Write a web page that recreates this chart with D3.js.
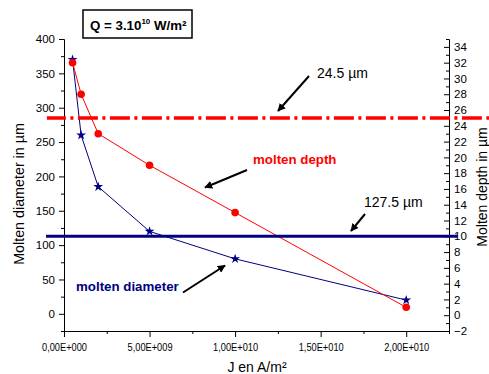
<!DOCTYPE html>
<html lang="en">
<head>
<meta charset="UTF-8"/>
<title>Molten diameter and depth</title>
<script src="https://d3js.org/d3.v7.min.js"></script>
<style>
  body { margin: 0; background: #fff; }
  svg text { font-family: "Liberation Sans", Arial, sans-serif; fill: #000; }
</style>
</head>
<body>
<script>
// data
var currentDensity = [5e8, 1e9, 2e9, 5e9, 1e10, 2e10];        // J en A/m2
var moltenDiameter = [370, 260, 185, 120, 80, 20];              // left axis, um
var moltenDepth    = [32, 28, 23, 19, 13, 1];                    // right axis, um

// reference levels (right axis units) and where they are drawn along x
var depthLevel    = 25;
var diameterLevel = 10;
var depthLevelSpan    = [-1e9, 2.5e10];
var diameterLevelSpan = [-1.05e9, 2.3e10];

var xTickValues = [0, 5e9, 1e10, 1.5e10, 2e10];
var xTickLabels = ["0,00E+000", "5,00E+009", "1,00E+010", "1,50E+010", "2,00E+010"];
var xMinorTicks = [2.5e9, 7.5e9, 1.25e10, 1.75e10, 2.25e10];
var leftTicks   = [0, 50, 100, 150, 200, 250, 300, 350, 400];
var leftMinor   = [-25, 25, 75, 125, 175, 225, 275, 325, 375];
var rightTicks  = d3.range(-2, 35, 2);
var rightMinor  = d3.range(-1, 36, 2);

var w = 489, h = 374;
var plotL = 64, plotR = 449, plotT = 39, plotB = 331;

var svg = d3.select("body").append("svg")
    .attr("width", w)
    .attr("height", h);

var xScale = d3.scaleLinear().domain([0, 2.25e10]).range([plotL, plotR]);
var yLeft  = d3.scaleLinear().domain([-25, 400]).range([plotB, plotT]);
var yRight = d3.scaleLinear().domain([-2, 35]).range([plotB, plotT]);

// ---- axes
var xAxis = d3.axisBottom(xScale)
    .tickValues(xTickValues)
    .tickFormat(function(d, i) { return xTickLabels[i]; })
    .tickSizeInner(6).tickSizeOuter(0).tickPadding(7);
var xMinor = d3.axisBottom(xScale)
    .tickValues(xMinorTicks).tickFormat("").tickSizeInner(3).tickSizeOuter(0);

var gx = svg.append("g").attr("transform", "translate(0," + plotB + ")").call(xAxis);
svg.append("g").attr("transform", "translate(0," + plotB + ")").call(xMinor);
gx.selectAll("text")
    .style("font-size", "10.5px")
    .attr("textLength", 45)
    .attr("lengthAdjust", "spacingAndGlyphs");

var yAxisL = d3.axisLeft(yLeft)
    .tickValues(leftTicks).tickSizeInner(5).tickSizeOuter(0).tickPadding(4);
var yMinorL = d3.axisLeft(yLeft)
    .tickValues(leftMinor).tickFormat("").tickSizeInner(3).tickSizeOuter(0);
var gyl = svg.append("g").attr("transform", "translate(" + plotL + ",0)").call(yAxisL);
svg.append("g").attr("transform", "translate(" + plotL + ",0)").call(yMinorL);
gyl.selectAll("text").style("font-size", "11.5px");

// right axis has its ticks pointing into the plot
var yAxisR = d3.axisRight(yRight)
    .tickValues(rightTicks).tickSizeInner(-5).tickSizeOuter(0).tickPadding(5);
var yMinorR = d3.axisRight(yRight)
    .tickValues(rightMinor).tickFormat("").tickSizeInner(-3).tickSizeOuter(0);
var gyr = svg.append("g").attr("transform", "translate(" + plotR + ",0)").call(yAxisR);
svg.append("g").attr("transform", "translate(" + plotR + ",0)").call(yMinorR);
gyr.selectAll("text").style("font-size", "11.5px");

svg.selectAll(".domain").attr("stroke", "#000").attr("stroke-width", 1);
svg.selectAll(".tick line").attr("stroke", "#000");

// ---- axis titles
svg.append("text")
    .attr("transform", "translate(24," + 194 + ") rotate(-90)")
    .attr("text-anchor", "middle")
    .style("font-size", "14.3px")
    .text("Molten diameter in \u00b5m");

svg.append("text")
    .attr("transform", "translate(487," + 187 + ") rotate(-90)")
    .attr("text-anchor", "middle")
    .style("font-size", "14px")
    .text("Molten depth in \u00b5m");

svg.append("text")
    .attr("x", 257).attr("y", 372)
    .attr("text-anchor", "middle")
    .style("font-size", "14px")
    .text("J en A/m\u00b2");

// ---- series
var diamLine = d3.line()
    .x(function(d, i) { return xScale(currentDensity[i]); })
    .y(function(d) { return yLeft(d); });
var depthLine = d3.line()
    .x(function(d, i) { return xScale(currentDensity[i]); })
    .y(function(d) { return yRight(d); });

svg.append("path")
    .datum(moltenDiameter)
    .attr("d", diamLine)
    .attr("fill", "none")
    .attr("stroke", "#000080")
    .attr("stroke-width", 1);

svg.append("path")
    .datum(moltenDepth)
    .attr("d", depthLine)
    .attr("fill", "none")
    .attr("stroke", "#ff0000")
    .attr("stroke-width", 1);

svg.selectAll(".star")
    .data(moltenDiameter)
    .enter()
    .append("path")
    .attr("class", "star")
    .attr("d", d3.symbol().type(d3.symbolStar).size(30))
    .attr("transform", function(d, i) {
        return "translate(" + xScale(currentDensity[i]) + "," + yLeft(d) + ")";
    })
    .attr("fill", "#000080");

svg.selectAll(".dot")
    .data(moltenDepth)
    .enter()
    .append("circle")
    .attr("class", "dot")
    .attr("cx", function(d, i) { return xScale(currentDensity[i]); })
    .attr("cy", function(d) { return yRight(d); })
    .attr("r", 3.8)
    .attr("fill", "#ff0000");

// ---- reference levels
svg.append("line")
    .attr("x1", xScale(depthLevelSpan[0])).attr("x2", xScale(depthLevelSpan[1]))
    .attr("y1", yRight(depthLevel)).attr("y2", yRight(depthLevel))
    .attr("stroke", "#ff0000")
    .attr("stroke-width", 3.5)
    .attr("stroke-dasharray", "20,4.5,3,4.5")
    .attr("stroke-dashoffset", 1);

svg.append("line")
    .attr("x1", xScale(diameterLevelSpan[0])).attr("x2", xScale(diameterLevelSpan[1]))
    .attr("y1", yRight(diameterLevel)).attr("y2", yRight(diameterLevel))
    .attr("stroke", "#000080")
    .attr("stroke-width", 3);

// ---- annotations
var defs = svg.append("defs");
defs.append("marker")
    .attr("id", "head")
    .attr("viewBox", "0 0 10 10")
    .attr("refX", 9).attr("refY", 5)
    .attr("markerWidth", 4).attr("markerHeight", 4)
    .attr("orient", "auto")
    .append("path")
    .attr("d", "M0,0 L10,5 L0,10 z")
    .attr("fill", "#000");

var arrows = [
    [309, 76, 278, 111],
    [247, 170, 205, 187.5],
    [365, 214, 351, 231],
    [183, 292.5, 225, 265.5]
];
svg.selectAll(".arrow")
    .data(arrows)
    .enter()
    .append("line")
    .attr("class", "arrow")
    .attr("x1", function(d) { return d[0]; })
    .attr("y1", function(d) { return d[1]; })
    .attr("x2", function(d) { return d[2]; })
    .attr("y2", function(d) { return d[3]; })
    .attr("stroke", "#000")
    .attr("stroke-width", 2)
    .attr("marker-end", "url(#head)");

svg.append("text")
    .attr("x", 317).attr("y", 78)
    .style("font-size", "14px")
    .text("24.5 \u00b5m");

svg.append("text")
    .attr("x", 364).attr("y", 207)
    .style("font-size", "14px")
    .text("127.5 \u00b5m");

svg.append("text")
    .attr("x", 253).attr("y", 164)
    .style("font-size", "13.3px")
    .style("font-weight", "bold")
    .style("fill", "#ff0000")
    .text("molten depth");

svg.append("text")
    .attr("x", 76).attr("y", 291)
    .style("font-size", "13.3px")
    .style("font-weight", "bold")
    .style("fill", "#000080")
    .text("molten diameter");

// ---- title box
svg.append("rect")
    .attr("x", 83).attr("y", 10)
    .attr("width", 109).attr("height", 28)
    .attr("fill", "#fff")
    .attr("stroke", "#000")
    .attr("stroke-width", 1.5);

var title = svg.append("text")
    .attr("x", 90).attr("y", 30)
    .style("font-size", "13.3px")
    .style("font-weight", "bold");
title.append("tspan").text("Q = 3.10");
title.append("tspan").attr("dy", -6).style("font-size", "8px").text("10");
title.append("tspan").attr("dy", 6).text(" W/m\u00b2");
</script>
</body>
</html>
